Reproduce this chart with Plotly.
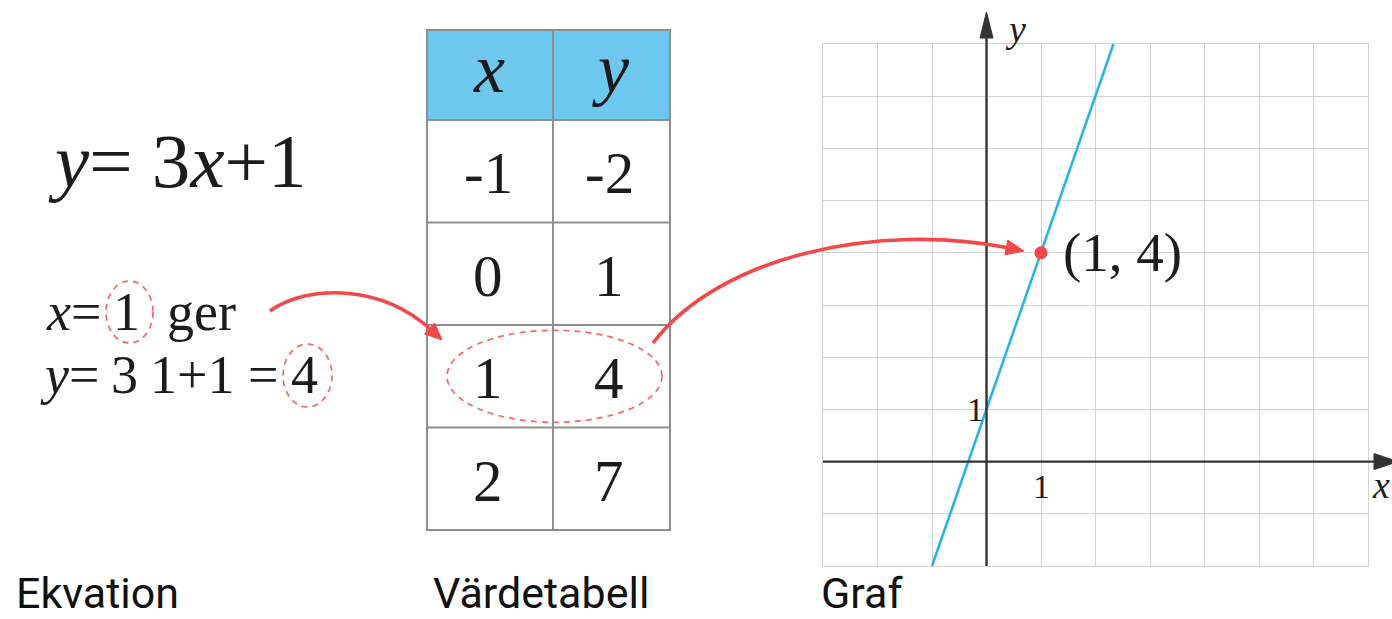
import math
import plotly.graph_objects as go

# ---- data -------------------------------------------------------------
# Value table for y = 3x + 1
table_x = [-1, 0, 1, 2]
table_y = [-2, 1, 4, 7]

# Straight line through the table points, continued to the top of the grid
line_x = [-1, 0, 1, 2, 2.33]
line_y = [-2, 1, 4, 7, 8]

# The highlighted point taken from the table
point_x = [1]
point_y = [4]

# Axis ranges and the labelled unit tick
x_range = [-3, 7]
y_range = [-2, 8]
tick_vals = [1]

# Panel captions
captions = ["Ekvation", "Värdetabell", "Graf"]

# ---- page geometry / styles --------------------------------------------
W, H = 1392, 619
SERIF = "Liberation Serif"
SANS = "Roboto"
INK = "#1c1c1c"
RED = "#F2484A"
RED_DASH = "#F0686A"
BLUE = "#2BB3E6"
GRID = "#D2D2D2"
AXIS = "#333333"
HEADER = "#6DC7EE"
TABLE_LINE = "#8E8E8E"

GRAPH_L, GRAPH_R = 823, 1368
GRAPH_T, GRAPH_B = 44, 566


def gx(v):
    return GRAPH_L + (v - x_range[0]) / (x_range[1] - x_range[0]) * (GRAPH_R - GRAPH_L)


def gy(v):
    return GRAPH_B - (v - y_range[0]) / (y_range[1] - y_range[0]) * (GRAPH_B - GRAPH_T)


fig = go.Figure()

# Graph: line and point on the coordinate axes
fig.add_trace(go.Scatter(x=line_x, y=line_y, mode="lines",
                         line=dict(color=BLUE, width=2.6),
                         hoverinfo="skip", showlegend=False))
fig.add_trace(go.Scatter(x=point_x, y=point_y, mode="markers",
                         marker=dict(color=RED, size=13, line=dict(width=0)),
                         hoverinfo="skip", showlegend=False))
# Full-page pixel layer used for the table, the equation and the arrows
fig.add_trace(go.Scatter(x=[], y=[], xaxis="x2", yaxis="y2",
                         hoverinfo="skip", showlegend=False))

shapes = []
annotations = []


def text(s, x, y, size, family=SERIF, xanchor="center", xref="x2", yref="y2",
         xshift=0, yshift=0, color=INK, borderpad=1):
    annotations.append(dict(text=s, x=x, y=y, xref=xref, yref=yref,
                            xanchor=xanchor, yanchor="middle", showarrow=False,
                            xshift=xshift, yshift=yshift, borderpad=borderpad,
                            font=dict(family=family, size=size, color=color)))


def line(x0, y0, x1, y1, color, width):
    shapes.append(dict(type="line", xref="x2", yref="y2", x0=x0, y0=y0,
                       x1=x1, y1=y1, line=dict(color=color, width=width)))


def triangle(tip, direction, length, half_w, color):
    dx, dy = direction
    n = math.hypot(dx, dy)
    ux, uy = dx / n, dy / n
    bx, by = tip[0] - ux * length, tip[1] - uy * length
    px, py = -uy * half_w, ux * half_w
    path = (f"M {tip[0]},{tip[1]} L {bx + px},{by + py} "
            f"L {bx - px},{by - py} Z")
    shapes.append(dict(type="path", xref="x2", yref="y2", path=path,
                       fillcolor=color, line=dict(color=color, width=1)))


def curved_arrow(p0, p1, p2, tip, head_len, head_w):
    dx, dy = tip[0] - p2[0], tip[1] - p2[1]
    n = math.hypot(dx, dy)
    end = (tip[0] - dx / n * (head_len - 3), tip[1] - dy / n * (head_len - 3))
    path = (f"M {p0[0]},{p0[1]} C {p1[0]},{p1[1]} {p2[0]},{p2[1]} "
            f"{end[0]},{end[1]}")
    shapes.append(dict(type="path", xref="x2", yref="y2", path=path,
                       line=dict(color=RED, width=3.6)))
    triangle(tip, (dx, dy), head_len, head_w, RED)


def dashed_ellipse(x0, y0, x1, y1):
    shapes.append(dict(type="circle", xref="x2", yref="y2", x0=x0, y0=y0,
                       x1=x1, y1=y1,
                       line=dict(color=RED_DASH, width=1.7, dash="6px,5px")))


# ---- equation panel -----------------------------------------------------
text("<i>y</i>= 3<i>x</i>+1", 177, 161, 77)

text("<i>x</i>=", 73, 312, 54)
text("1", 126, 312, 54)
text("ger", 201, 312, 54)
dashed_ellipse(106, 281, 153, 343)

text("<i>y</i>=", 69, 375, 54)
text("3", 124, 375, 54)
text("1+1", 192, 375, 54)
text("=", 263, 375, 54)
text(str(table_y[table_x.index(point_x[0])]), 304, 375, 54)
dashed_ellipse(283, 344, 332, 407)

# ---- value table --------------------------------------------------------
TL, TM, TR = 427, 553, 670
T_TOP, T_HEAD, T_BOT = 30, 120, 530
row_h = (T_BOT - T_HEAD) / len(table_x)

shapes.append(dict(type="rect", xref="x2", yref="y2", x0=TL, y0=T_TOP,
                   x1=TR, y1=T_HEAD, fillcolor=HEADER, line=dict(width=0),
                   layer="below"))
shapes.append(dict(type="rect", xref="x2", yref="y2", x0=TL, y0=T_TOP,
                   x1=TR, y1=T_BOT, line=dict(color=TABLE_LINE, width=2)))
line(TM, T_TOP, TM, T_BOT, TABLE_LINE, 2)
for k in range(len(table_x)):
    line(TL, T_HEAD + k * row_h, TR, T_HEAD + k * row_h, TABLE_LINE, 2)

text("<i>x</i>", 489, 68, 70)
text("<i>y</i>", 611, 68, 70)
for k, (xv, yv) in enumerate(zip(table_x, table_y)):
    cy = T_HEAD + (k + 0.5) * row_h + 2
    text(str(xv), 488, cy, 59)
    text(str(yv), 609, cy, 59)

hi = table_x.index(point_x[0])
cy_hi = T_HEAD + (hi + 0.5) * row_h
dashed_ellipse(447, cy_hi - 46, 662, cy_hi + 46)

# ---- graph axes with arrows --------------------------------------------
ax0 = gx(0)
ay0 = gy(0)
line(ax0, GRAPH_B, ax0, 36, AXIS, 2.4)
triangle((ax0, 12), (0, -1), 26, 6.5, AXIS)
line(GRAPH_L, ay0, 1378, ay0, AXIS, 2.4)
triangle((1398, ay0), (1, 0), 24, 8, AXIS)
text("<i>y</i>", 1015, 29, 38)
text("<i>x</i>", 1391, 485, 38, xanchor="right", borderpad=0)

for t in tick_vals:
    text(str(t), t, 0, 34, xref="x", yref="y", yshift=-25)
    text(str(t), 0, t, 34, xref="x", yref="y", xshift=-11)

text(f"({point_x[0]}, {point_y[0]})", point_x[0], point_y[0], 55,
     xref="x", yref="y", xanchor="left", xshift=20)

# ---- red arrows ----------------------------------------------------------
curved_arrow((270, 311), (308, 284), (382, 284), (442, 340), 17, 7.5)
curved_arrow((653, 343), (720, 255), (880, 222), (1024, 251), 18, 7.5)

# ---- captions -----------------------------------------------------------
for cap, cx in zip(captions, [15, 432, 820]):
    text(cap, cx, 593, 43, family=SANS, xanchor="left", color="#111111",
         borderpad=0)

fig.update_layout(
    width=W, height=H,
    margin=dict(l=0, r=0, t=0, b=0),
    paper_bgcolor="white",
    plot_bgcolor="rgba(0,0,0,0)",
    showlegend=False,
    xaxis=dict(domain=[GRAPH_L / W, GRAPH_R / W], range=x_range,
               tick0=0, dtick=1, showgrid=True, gridcolor=GRID, gridwidth=1,
               zeroline=False, showticklabels=False, ticks="",
               showline=True, mirror=True, linecolor=GRID, linewidth=1,
               fixedrange=True, anchor="y"),
    yaxis=dict(domain=[1 - GRAPH_B / H, 1 - GRAPH_T / H], range=y_range,
               tick0=0, dtick=1, showgrid=True, gridcolor=GRID, gridwidth=1,
               zeroline=False, showticklabels=False, ticks="",
               showline=True, mirror=True, linecolor=GRID, linewidth=1,
               fixedrange=True, anchor="x"),
    xaxis2=dict(domain=[0, 1], range=[0, W], visible=False,
                fixedrange=True, anchor="y2"),
    yaxis2=dict(domain=[0, 1], range=[H, 0], visible=False,
                fixedrange=True, anchor="x2"),
    shapes=shapes,
    annotations=annotations,
)

fig.write_html("out.html", config={"displayModeBar": False})
